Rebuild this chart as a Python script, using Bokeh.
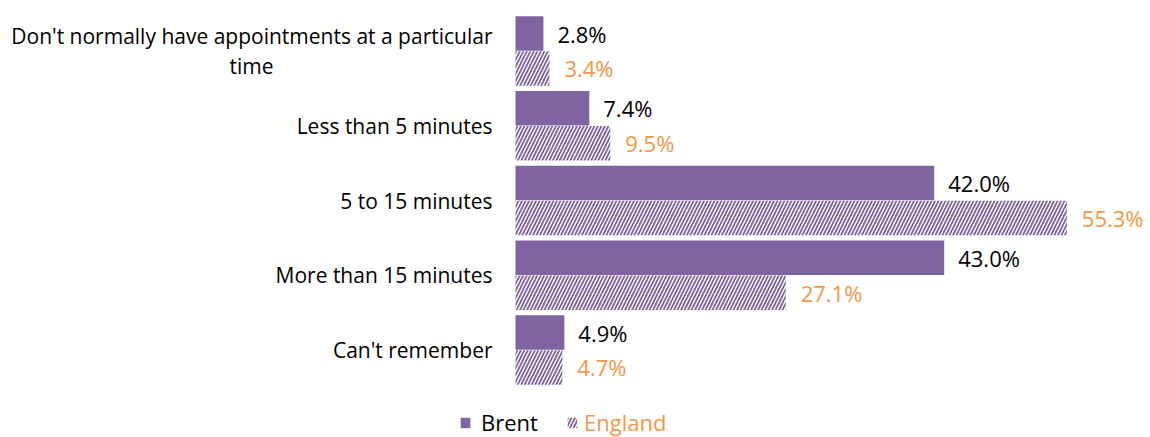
from bokeh.plotting import figure
from bokeh.models import Range1d, Legend, LegendItem, ColumnDataSource
from bokeh.embed import file_html
from bokeh.resources import INLINE
from bokeh.core.properties import value

categories = [
    "Don't normally have appointments at a particular\ntime",
    "Less than 5 minutes",
    "5 to 15 minutes",
    "More than 15 minutes",
    "Can't remember",
]
series = ["Brent", "England"]
brent = [2.8, 7.4, 42.0, 43.0, 4.9]
england = [3.4, 9.5, 55.3, 27.1, 4.7]

PURPLE = "#8064A2"
ORANGE = "#F79646"
FONT = "Open Sans"

# page geometry (pixels)
W, H = 1150, 437
X0_PX = 515          # where 0% sits
PX_PER_PCT = 9.97
Y0_PX = 50.5         # centre of first category
PX_PER_CAT = 74.75

x_start = -X0_PX / PX_PER_PCT
x_end = (W - X0_PX) / PX_PER_PCT
y_top = -Y0_PX / PX_PER_CAT
y_bot = (H - Y0_PX) / PX_PER_CAT

idx = list(range(len(categories)))
off = 0.234
bh = 0.46

src_b = ColumnDataSource(dict(y=[i - off for i in idx], v=brent,
                              t=[f"{x:.1f}%" for x in brent]))
src_e = ColumnDataSource(dict(y=[i + off for i in idx], v=england,
                              t=[f"{x:.1f}%" for x in england]))

p = figure(width=W, height=H, output_backend="svg", toolbar_location=None,
           x_range=Range1d(x_start, x_end), y_range=Range1d(y_bot, y_top),
           min_border=0)
p.outline_line_color = None
p.grid.visible = False
p.axis.visible = False

rb = p.hbar(y="y", right="v", left=0, height=bh, source=src_b,
            fill_color=PURPLE, line_color=None)
re_ = p.hbar(y="y", right="v", left=0, height=bh, source=src_e,
             fill_color="white", line_color=None,
             hatch_pattern="right_diagonal_line", hatch_color=PURPLE,
             hatch_scale=7, hatch_weight=1.8)

p.text(x="v", y="y", text="t", source=src_b, x_offset=14,
       text_baseline="middle", text_align="left", text_color="black",
       text_font=value(FONT), text_font_size="22px")
p.text(x="v", y="y", text="t", source=src_e, x_offset=15,
       text_baseline="middle", text_align="left", text_color=ORANGE,
       text_font=value(FONT), text_font_size="22px")

# category labels: first line right-aligned left of the bars,
# continuation lines centred under the first line
LABEL_SIZE = 21
first_lines, rest_lines, rest_y, rest_off = [], [], [], []
for i, c in enumerate(categories):
    parts = c.split("\n")
    first_lines.append(parts[0])
    if len(parts) > 1:
        w1 = len(parts[0]) * LABEL_SIZE * 0.478
        rest_lines.append("\n".join(parts[1:]))
        rest_y.append(i)
        rest_off.append(-23 - w1 / 2)
lab_dy = [-15 if "\n" in c else 0 for c in categories]
src_l = ColumnDataSource(dict(x=[0] * len(idx), y=idx, t=first_lines, dy=lab_dy))
p.text(x="x", y="y", text="t", source=src_l, x_offset=-23, y_offset="dy",
       text_align="right", text_baseline="middle", text_color="black",
       text_font=value(FONT), text_font_size=f"{LABEL_SIZE}px")
src_r = ColumnDataSource(dict(x=[0] * len(rest_y), y=rest_y, t=rest_lines, dx=rest_off))
p.text(x="x", y="y", text="t", source=src_r, x_offset="dx", y_offset=15,
       text_align="center", text_baseline="middle", text_color="black",
       text_font=value(FONT), text_font_size=f"{LABEL_SIZE}px")

def mk_legend(item, renderer, color, x, standoff):
    lg = Legend(items=[LegendItem(label=item, renderers=[renderer])],
                location=(x, 0), orientation="horizontal",
                glyph_width=12, glyph_height=13, label_standoff=standoff,
                padding=0, margin=0, spacing=0,
                border_line_color=None, background_fill_alpha=0,
                label_text_font=FONT, label_text_font_size="22px",
                label_text_color=color, label_height=20)
    p.add_layout(lg, "center")

mk_legend(series[0], rb, "black", 459, 10)
mk_legend(series[1], re_, ORANGE, 566, 6)

open("out.html", "w").write(file_html(p, INLINE))
